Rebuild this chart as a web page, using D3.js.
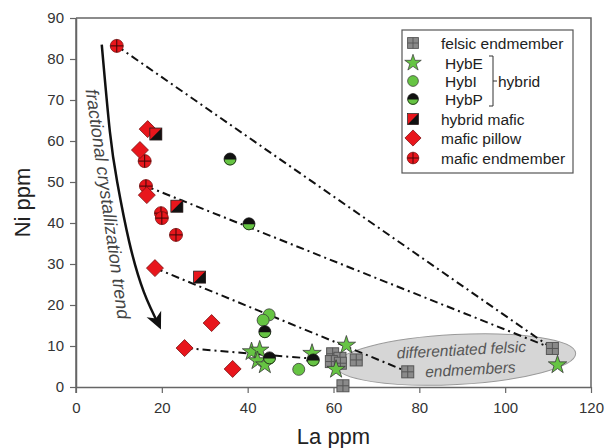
<!DOCTYPE html>
<html>
<head>
<meta charset="utf-8">
<script src="https://cdn.jsdelivr.net/npm/d3@7"></script>
<style>
    body { margin: 0; background: #fff; }
    svg { display: block; font-family: "Liberation Sans", Arial, sans-serif; }
</style>
</head>
<body>
<svg width="606" height="448"></svg>
<script>
// [La, Ni] pairs
const felsicEnd = [[59.8, 8.1], [61.5, 7.0], [59.5, 6.2], [61.6, 5.8], [65.3, 6.6], [77.3, 3.7], [62.2, 0.3], [111.0, 9.4]];
const hybE = [[40.9, 8.6], [42.8, 9.0], [42.3, 6.4], [44.0, 5.4], [55.0, 8.2], [63.0, 10.2], [60.6, 4.3], [112.2, 5.4]];
const hybI = [[45.0, 17.6], [43.6, 16.3], [51.9, 4.3]];
const hybP = [[35.9, 55.6], [40.3, 39.8], [44.0, 13.5], [45.1, 7.1], [55.3, 6.6]];
const hybridMafic = [[18.6, 61.7], [23.5, 44.1], [28.8, 26.8]];
const maficPillow = [[16.7, 62.9], [14.9, 57.8], [16.5, 46.8], [18.4, 29.0], [31.6, 15.6], [25.3, 9.5], [36.5, 4.4]];
const maficEnd = [[9.5, 83.2], [16.0, 55.1], [16.3, 49.0], [19.8, 42.4], [20.0, 41.2], [23.3, 37.1]];

// dash-dot mixing lines
const mixLines = [
    [[9.5, 83.2], [111.0, 9.4]],
    [[16.3, 49.0], [111.0, 9.4]],
    [[18.4, 29.0], [77.3, 3.7]],
    [[25.3, 9.5], [55.3, 6.9]]
];

// fractional crystallization arrow path
const trendPath = [[6.0, 83.5], [7.9, 62.2], [9.6, 50.0], [12.4, 35.4], [15.8, 23.2], [19.5, 14.7]];

const xTicks = [0, 20, 40, 60, 80, 100, 120];
const yTicks = [0, 10, 20, 30, 40, 50, 60, 70, 80, 90];

const legendItems = [
    { key: 'felsic', label: 'felsic endmember' },
    { key: 'hybE', label: 'HybE' },
    { key: 'hybI', label: 'HybI' },
    { key: 'hybP', label: 'HybP' },
    { key: 'hybridMafic', label: 'hybrid mafic' },
    { key: 'pillow', label: 'mafic pillow' },
    { key: 'maficEnd', label: 'mafic endmember' }
];

const RED = '#e8161c';
const GREEN = '#66c443';
const GREY = '#8a8a8a';
const EDGE = '#3a3a3a';

const svg = d3.select('svg');
const x = d3.scaleLinear().domain([0, 120]).range([76, 591]);
const y = d3.scaleLinear().domain([0, 90]).range([387, 18]);

const defs = svg.append('defs');
defs.append('clipPath').attr('id', 'lowerHalf')
    .append('rect').attr('x', -10).attr('y', 0).attr('width', 20).attr('height', 10);

function drawMarker(g, key) {
    if (key === 'felsic') {
        g.append('rect').attr('x', -6).attr('y', -6).attr('width', 12).attr('height', 12)
            .attr('fill', GREY).attr('stroke', '#555').attr('stroke-width', 1);
        g.append('path').attr('d', 'M0,-6V6M-6,0H6').attr('stroke', '#555').attr('stroke-width', 1);
    } else if (key === 'hybE') {
        g.append('path').attr('d', d3.symbol(d3.symbolStar, 105)())
            .attr('fill', GREEN).attr('stroke', EDGE).attr('stroke-width', 0.8);
    } else if (key === 'hybI') {
        g.append('circle').attr('r', 6).attr('fill', GREEN).attr('stroke', EDGE).attr('stroke-width', 0.8);
    } else if (key === 'hybP') {
        g.append('circle').attr('r', 6).attr('fill', '#111');
        g.append('circle').attr('r', 6).attr('fill', GREEN).attr('clip-path', 'url(#lowerHalf)')
            .attr('transform', 'translate(0,0.5)');
        g.append('circle').attr('r', 6).attr('fill', 'none').attr('stroke', '#111').attr('stroke-width', 0.8);
    } else if (key === 'hybridMafic') {
        g.append('rect').attr('x', -6).attr('y', -6).attr('width', 12).attr('height', 12).attr('fill', RED);
        g.append('path').attr('d', 'M6,-6L6,6L-6,6Z').attr('fill', '#111');
        g.append('rect').attr('x', -6).attr('y', -6).attr('width', 12).attr('height', 12)
            .attr('fill', 'none').attr('stroke', '#222').attr('stroke-width', 0.8);
    } else if (key === 'pillow') {
        g.append('path').attr('d', 'M0,-8.5L8.5,0L0,8.5L-8.5,0Z')
            .attr('fill', RED).attr('stroke', '#7a1010').attr('stroke-width', 0.8);
    } else if (key === 'maficEnd') {
        g.append('circle').attr('r', 6.5).attr('fill', RED).attr('stroke', '#7a1010').attr('stroke-width', 0.8);
        g.append('path').attr('d', 'M0,-6.5V6.5M-6.5,0H6.5').attr('stroke', '#3a0808').attr('stroke-width', 1);
    }
}

// ellipse behind points
const ell = svg.append('g')
    .attr('transform', `translate(${x(88.5)},${y(6.7)}) rotate(-3)`);
ell.append('ellipse').attr('rx', 120).attr('ry', 25)
    .attr('fill', '#d6d6d6').attr('stroke', '#9a9a9a').attr('stroke-width', 1);
ell.append('text').attr('x', 6).attr('y', -4).attr('text-anchor', 'middle')
    .attr('font-style', 'italic').attr('font-size', 15.5).attr('fill', '#555')
    .text('differentiated felsic');
ell.append('text').attr('x', 14).attr('y', 16).attr('text-anchor', 'middle')
    .attr('font-style', 'italic').attr('font-size', 15.5).attr('fill', '#555')
    .text('endmembers');

// axes
const axisColor = '#666';
const xAxis = svg.append('g').attr('transform', `translate(0,${y(0)})`)
    .call(d3.axisBottom(x).tickValues(xTicks).tickSize(6).tickSizeOuter(0));
const yAxis = svg.append('g').attr('transform', `translate(${x(0)},0)`)
    .call(d3.axisLeft(y).tickValues(yTicks).tickSize(6).tickSizeOuter(0));
[xAxis, yAxis].forEach(a => {
    a.select('.domain').attr('stroke', axisColor).attr('stroke-width', 1.5);
    a.selectAll('.tick line').attr('stroke', axisColor).attr('stroke-width', 1.2);
    a.selectAll('.tick text').attr('font-size', 15).attr('fill', '#333')
        .attr('font-family', '"Liberation Sans", Arial, sans-serif');
});
xAxis.selectAll('.tick text').attr('dy', '1.15em');
yAxis.selectAll('.tick text').attr('dx', '-0.2em');

// frame top/right
svg.append('path')
    .attr('d', `M${x(0)},${y(90)}H${x(120)}V${y(0)}`)
    .attr('fill', 'none').attr('stroke', axisColor).attr('stroke-width', 1.5);
svg.append('path').attr('d', `M${x(0)},${y(90)}V${y(0) + 6}`)
    .attr('stroke', axisColor).attr('stroke-width', 1.5);

// axis titles
svg.append('text').attr('x', (x(0) + x(120)) / 2).attr('y', 444)
    .attr('text-anchor', 'middle').attr('font-size', 22).attr('fill', '#222').text('La ppm');
svg.append('text').attr('transform', `translate(30,${(y(0) + y(90)) / 2}) rotate(-90)`)
    .attr('text-anchor', 'middle').attr('font-size', 22).attr('fill', '#222').text('Ni ppm');

// mixing lines
svg.append('g').selectAll('line').data(mixLines).join('line')
    .attr('x1', d => x(d[0][0])).attr('y1', d => y(d[0][1]))
    .attr('x2', d => x(d[1][0])).attr('y2', d => y(d[1][1]))
    .attr('stroke', '#111').attr('stroke-width', 2)
    .attr('stroke-dasharray', '8,4,2,4');

// trend arrow
const trendLine = d3.line().x(d => x(d[0])).y(d => y(d[1])).curve(d3.curveNatural);
svg.append('path').attr('d', trendLine(trendPath))
    .attr('fill', 'none').attr('stroke', '#111').attr('stroke-width', 2.5);
{
    const n = trendPath.length;
    const tip = [x(trendPath[n - 1][0]), y(trendPath[n - 1][1])];
    const prev = [x(trendPath[n - 2][0]), y(trendPath[n - 2][1])];
    const ang = Math.atan2(tip[1] - prev[1], tip[0] - prev[0]) * 180 / Math.PI;
    svg.append('path')
        .attr('transform', `translate(${tip[0]},${tip[1]}) rotate(${ang})`)
        .attr('d', 'M3,0L-14,-8L-9,0L-14,8Z').attr('fill', '#111');
}
svg.append('text')
    .attr('transform', 'translate(108,204) rotate(82)')
    .attr('font-style', 'italic').attr('font-size', 18).attr('fill', '#444')
    .attr('text-anchor', 'middle').attr('dy', '0.35em')
    .text('fractional crystallization trend');

// points
const series = [
    ['felsic', felsicEnd], ['hybI', hybI], ['hybE', hybE], ['hybP', hybP],
    ['maficEnd', maficEnd], ['pillow', maficPillow], ['hybridMafic', hybridMafic]
];
const pts = svg.append('g');
series.forEach(([key, data]) => {
    pts.append('g').selectAll('g').data(data).join('g')
        .attr('transform', d => `translate(${x(d[0])},${y(d[1])})`)
        .each(function () { drawMarker(d3.select(this), key); });
});

// legend
const lg = svg.append('g').attr('transform', 'translate(402,30)');
lg.append('rect').attr('width', 171).attr('height', 143)
    .attr('fill', '#fff').attr('stroke', '#555').attr('stroke-width', 1.2);
const rowY = [13, 33, 51, 69, 89, 108, 128];
legendItems.forEach((item, i) => {
    const row = lg.append('g').attr('transform', `translate(11,${rowY[i]})`);
    const m = row.append('g').attr('transform', item.key === 'pillow' ? 'scale(0.95)' : 'scale(0.9)');
    drawMarker(m, item.key);
    const isHyb = item.key.startsWith('hyb') && item.key !== 'hybridMafic';
    row.append('text').attr('x', isHyb ? 32 : 28).attr('dy', '0.36em')
        .attr('font-size', 15.5).attr('fill', '#222').text(item.label);
});
// bracket for hybrid group
lg.append('path')
    .attr('d', `M87,${rowY[1] - 7}H91V${rowY[3] + 7}H87M91,${rowY[2]}H95`)
    .attr('fill', 'none').attr('stroke', '#333').attr('stroke-width', 1);
lg.append('text').attr('x', 96).attr('y', rowY[2]).attr('dy', '0.36em')
    .attr('font-size', 15.5).attr('fill', '#222').text('hybrid');
</script>
</body>
</html>
